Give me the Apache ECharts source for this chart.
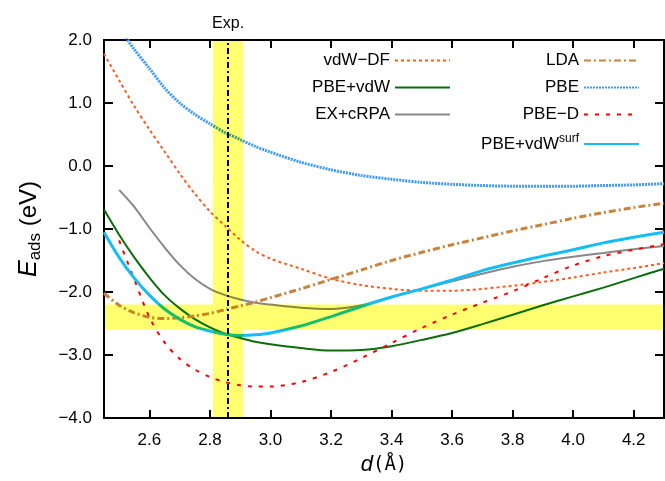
<!DOCTYPE html>
<html>
<head>
<meta charset="utf-8">
<script src="https://cdn.jsdelivr.net/npm/echarts@6/dist/echarts.min.js"></script>
<style>
  html, body { margin: 0; padding: 0; background: #fff; }
  #chart { width: 665px; height: 481px; }
</style>
</head>
<body>
<div id="chart"></div>
<script>
  // distance d (Å), common grid for all curves
  const dist = [2.45, 2.50, 2.55, 2.60, 2.65, 2.70, 2.75, 2.80, 2.85, 2.90, 2.95, 3.00,
                3.10, 3.20, 3.30, 3.40, 3.50, 3.60, 3.70, 3.80, 3.90, 4.00, 4.10, 4.20, 4.30];

  // E_ads (eV) per method, null = not computed there
  const vdwDF   = [1.78, 1.36, 0.95, 0.58, 0.23, -0.12, -0.44, -0.72, -0.95, -1.17, -1.35, -1.47,
                   -1.63, -1.79, -1.89, -1.95, -1.98, -1.98, -1.95, -1.90, -1.84, -1.77, -1.69, -1.62, -1.54];
  const pbeVdw  = [-0.69, -1.09, -1.45, -1.77, -2.05, -2.26, -2.43, -2.56, -2.66, -2.73, -2.79, -2.83,
                   -2.89, -2.93, -2.92, -2.86, -2.76, -2.65, -2.51, -2.36, -2.21, -2.07, -1.93, -1.78, -1.63];
  const exCrpa  = [null, -0.38, -0.65, -0.98, -1.29, -1.57, -1.79, -1.95, -2.05, -2.12, -2.17, -2.20,
                   -2.25, -2.27, -2.21, -2.08, -1.95, -1.83, -1.71, -1.60, -1.51, -1.44, -1.38, -1.32, -1.27];
  const lda     = [-2.02, -2.21, -2.33, -2.40, -2.42, -2.41, -2.38, -2.34, -2.28, -2.22, -2.16, -2.09,
                   -1.95, -1.80, -1.65, -1.50, -1.37, -1.25, -1.14, -1.03, -0.93, -0.83, -0.74, -0.66, -0.59];
  const pbe     = [null, 2.20, 1.85, 1.55, 1.24, 1.00, 0.82, 0.67, 0.53, 0.42, 0.31, 0.22,
                   0.06, -0.06, -0.15, -0.21, -0.26, -0.29, -0.31, -0.32, -0.32, -0.32, -0.31, -0.30, -0.28];
  const pbeD    = [null, -1.18, -1.80, -2.40, -2.80, -3.06, -3.23, -3.35, -3.43, -3.48, -3.50, -3.50,
                   -3.43, -3.27, -3.05, -2.81, -2.57, -2.36, -2.17, -1.99, -1.78, -1.58, -1.43, -1.33, -1.24];
  const vdwSurf = [-1.05, -1.45, -1.78, -2.05, -2.27, -2.43, -2.55, -2.62, -2.67, -2.69, -2.68, -2.65,
                   -2.54, -2.39, -2.23, -2.08, -1.95, -1.81, -1.66, -1.54, -1.43, -1.33, -1.22, -1.13, -1.05];

  // experimental distance and the two uncertainty bands
  const expD = 2.86;
  const expBand = [2.81, 2.91];
  const energyBand = [-2.6, -2.2];

  const xTicks = [2.6, 2.8, 3.0, 3.2, 3.4, 3.6, 3.8, 4.0, 4.2];
  const xRange = [2.45, 4.3];
  const yRange = [-4, 2];

  // band rectangles [x0, x1, y0, y1], split so they don't overlap
  const bandRects = [
    [expBand[0], expBand[1], yRange[0], yRange[1]],
    [xRange[0], expBand[0], energyBand[0], energyBand[1]],
    [expBand[1], xRange[1], energyBand[0], energyBand[1]]
  ];

  const bandColor = '#ffff70';
  const font = 'Liberation Sans, Arial, Helvetica, sans-serif';
  let chart = echarts.init(document.getElementById('chart'));

  function pts(values) {
    return dist.map(function (d, i) { return [d, values[i]]; })
      .filter(function (p) { return p[1] != null; });
  }

  function curve(name, values, color, width, dash) {
    return {
      name: name,
      type: 'line',
      data: pts(values),
      smooth: 0.3,
      symbol: 'none',
      z: 3,
      lineStyle: { color: color, width: width, type: dash },
      itemStyle: { color: color }
    };
  }

  function legendAt(name, right, top) {
    return {
      data: [name],
      right: right,
      top: top,
      align: 'right',
      padding: 0,
      itemWidth: 55,
      itemHeight: 12,
      itemGap: 11,
      selectedMode: false,
      itemStyle: { opacity: 0 },
      formatter: function (n) {
        if (n === 'PBE+vdW^surf') return '{t|PBE+vdW}{sup|surf}';
        return '{t|' + n + '}';
      },
      textStyle: {
        fontFamily: font,
        fontSize: 17,
        color: '#000',
        rich: {
          t: { fontFamily: font, fontSize: 17, color: '#000' },
          sup: { fontFamily: font, fontSize: 12, color: '#000', verticalAlign: 'top', padding: [0, 0, 10, 0] }
        }
      }
    };
  }

  let minus = function (v) { return v.toFixed(1).replace('-', '\u2212'); };

  let option = {
    backgroundColor: '#fff',
    animation: false,
    grid: { left: 104, right: 1, top: 40, bottom: 59, show: false },
    legend: [
      legendAt('vdW\u2212DF', 214, 52),
      legendAt('PBE+vdW', 214, 79),
      legendAt('EX+cRPA', 214, 106),
      legendAt('LDA', 25, 52),
      legendAt('PBE', 25, 79),
      legendAt('PBE\u2212D', 25, 106),
      legendAt('PBE+vdW^surf', 25, 133)
    ],
    xAxis: [{
      type: 'value',
      min: xRange[0],
      max: xRange[1],
      position: 'bottom',
      name: '{i|d}{t|(\u00c5)}',
      nameLocation: 'middle',
      nameGap: 36,
      nameTextStyle: {
        rich: {
          i: { fontFamily: font, fontSize: 22, fontStyle: 'italic', color: '#000' },
          t: { fontFamily: 'DejaVu Sans Mono, monospace', fontSize: 19, color: '#000' }
        }
      },
      splitLine: { show: false },
      axisLine: { show: true, onZero: false, lineStyle: { color: '#000', width: 2 } },
      axisTick: { show: true, inside: true, length: 8, customValues: xTicks, lineStyle: { color: '#000', width: 2 } },
      axisLabel: {
        customValues: xTicks,
        margin: 14,
        fontFamily: font,
        fontSize: 17,
        color: '#000',
        formatter: function (v) { return v.toFixed(1); }
      }
    }, {
      type: 'value',
      min: xRange[0],
      max: xRange[1],
      position: 'top',
      splitLine: { show: false },
      axisLine: { show: true, onZero: false, lineStyle: { color: '#000', width: 2 } },
      axisTick: { show: true, inside: true, length: 8, customValues: xTicks, lineStyle: { color: '#000', width: 2 } },
      axisLabel: { show: false }
    }],
    yAxis: [{
      type: 'value',
      min: yRange[0],
      max: yRange[1],
      interval: 1,
      position: 'left',
      name: '{i|E}{s|ads}{t| (eV)}',
      nameLocation: 'middle',
      nameRotate: 90,
      nameGap: 60,
      nameTextStyle: {
        rich: {
          i: { fontFamily: font, fontSize: 25, fontStyle: 'italic', color: '#000', lineHeight: 30 },
          s: { fontFamily: font, fontSize: 17, color: '#000', verticalAlign: 'bottom', lineHeight: 30 },
          t: { fontFamily: font, fontSize: 24, color: '#000', lineHeight: 30 }
        }
      },
      splitLine: { show: false },
      axisLine: { show: true, onZero: false, lineStyle: { color: '#000', width: 2 } },
      axisTick: { show: true, inside: true, length: 9, lineStyle: { color: '#000', width: 2 } },
      axisLabel: { margin: 12, fontFamily: font, fontSize: 17, color: '#000', formatter: minus }
    }, {
      type: 'value',
      min: yRange[0],
      max: yRange[1],
      interval: 1,
      position: 'right',
      splitLine: { show: false },
      axisLine: { show: true, onZero: false, lineStyle: { color: '#000', width: 2 } },
      axisTick: { show: true, inside: true, length: 9, lineStyle: { color: '#000', width: 2 } },
      axisLabel: { show: false }
    }],
    series: [
      curve('vdW\u2212DF', vdwDF, '#ff5a1f', 2, [3, 3]),
      curve('PBE+vdW', pbeVdw, '#0a6e0a', 2, 'solid'),
      curve('EX+cRPA', exCrpa, '#888888', 2, 'solid'),
      curve('LDA', lda, '#c8843f', 3, [7, 3, 2, 3]),
      curve('PBE', pbe, '#3d9bff', 3, [2, 1]),
      curve('PBE\u2212D', pbeD, '#ff0000', 2, [4, 7]),
      curve('PBE+vdW^surf', vdwSurf, '#14bef5', 3, 'solid'),
      {
        // yellow bands multiplied over the curves
        name: 'bands',
        type: 'custom',
        z: 5,
        silent: true,
        data: bandRects,
        encode: { x: [0, 1], y: [2, 3] },
        renderItem: function (params, api) {
          let p0 = api.coord([api.value(0), api.value(3)]);
          let p1 = api.coord([api.value(1), api.value(2)]);
          return {
            type: 'rect',
            shape: { x: p0[0], y: p0[1], width: p1[0] - p0[0], height: p1[1] - p0[1] },
            style: { fill: bandColor, blend: 'multiply' }
          };
        }
      },
      {
        name: 'exp',
        type: 'line',
        data: [],
        z: 6,
        markLine: {
          silent: true,
          symbol: 'none',
          z: 6,
          lineStyle: { color: '#000', width: 2, type: [6, 3, 2, 3] },
          label: { show: true, position: 'end', distance: 8, formatter: 'Exp.', fontFamily: font, fontSize: 16, color: '#000' },
          data: [{ xAxis: expD }]
        }
      }
    ]
  };
  chart.setOption(option);

  // make sure the band rects multiply with what is under them
  chart.getZr().storage.getDisplayList(true).forEach(function (el) {
    if (el.style && el.style.fill === bandColor) {
      el.style.blend = 'multiply';
      el.markRedraw();
    }
  });
  chart.getZr().refreshImmediately();
</script>
</body>
</html>
